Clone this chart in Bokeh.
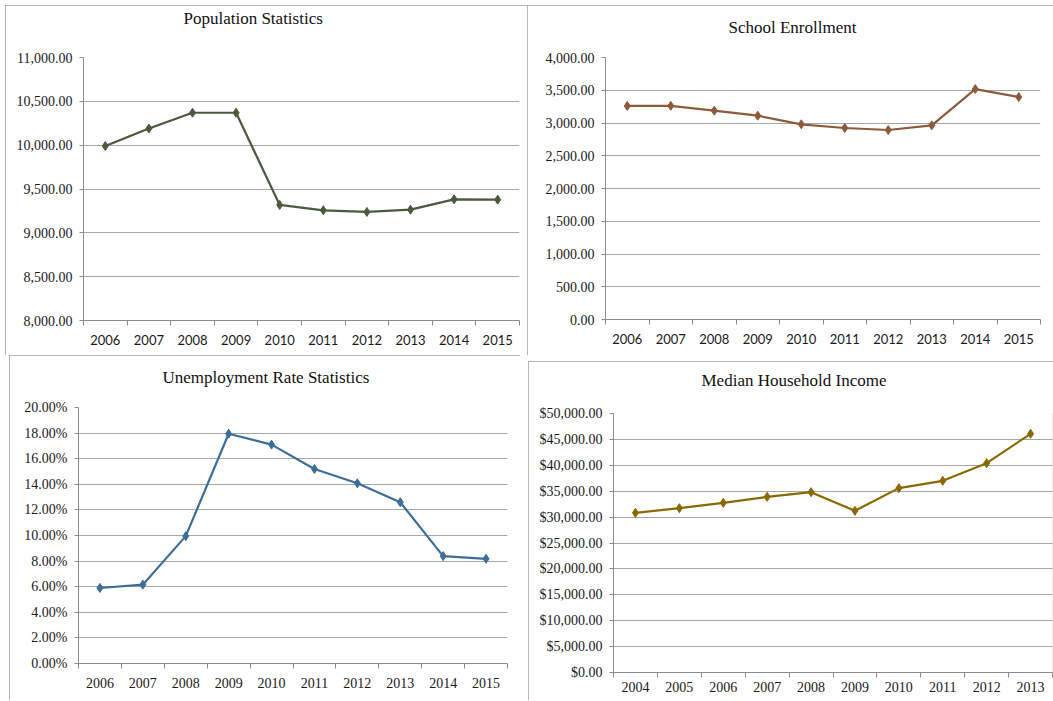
from bokeh.plotting import figure
from bokeh.models import FixedTicker, NumeralTickFormatter, Range1d, Title, Spacer
from bokeh.layouts import column, row
from bokeh.embed import file_html
from bokeh.resources import INLINE

# ---------------- data ----------------
pop_years = ["2006", "2007", "2008", "2009", "2010", "2011", "2012", "2013", "2014", "2015"]
pop_values = [9990, 10190, 10370, 10370, 9318, 9257, 9238, 9264, 9382, 9378]
pop_ticks = [8000, 8500, 9000, 9500, 10000, 10500, 11000]

school_years = ["2006", "2007", "2008", "2009", "2010", "2011", "2012", "2013", "2014", "2015"]
school_values = [3260, 3262, 3188, 3112, 2980, 2924, 2893, 2964, 3518, 3396]
school_ticks = [0, 500, 1000, 1500, 2000, 2500, 3000, 3500, 4000]

unemp_years = ["2006", "2007", "2008", "2009", "2010", "2011", "2012", "2013", "2014", "2015"]
unemp_rates = [0.059, 0.0616, 0.0995, 0.1795, 0.171, 0.152, 0.1408, 0.126, 0.0839, 0.0818]
unemp_ticks = [0, 0.02, 0.04, 0.06, 0.08, 0.10, 0.12, 0.14, 0.16, 0.18, 0.20]

income_years = ["2004", "2005", "2006", "2007", "2008", "2009", "2010", "2011", "2012", "2013"]
income_values = [30820, 31720, 32750, 33910, 34810, 31210, 35590, 37000, 40410, 46080]
income_ticks = [0, 5000, 10000, 15000, 20000, 25000, 30000, 35000, 40000, 45000, 50000]

SERIF = "Liberation Serif"
SANS = "Lato"
GRID = "#A6A6A6"
AXIS = "#8C8C8C"
TITLE_H = 20


def make_panel(title, years, values, ticks, fmt, color, x_font, x_font_size,
               left, frame_w, right, top, frame_h, bottom, title_dx, title_top, x_standoff):
    n = len(years)
    xs = [i + 0.5 for i in range(n)]
    p = figure(frame_width=frame_w, frame_height=frame_h, output_backend="svg",
               toolbar_location=None, align="start",
               x_range=Range1d(0, n), y_range=Range1d(ticks[0], ticks[-1]),
               min_border_left=left, min_border_right=right,
               min_border_top=top, min_border_bottom=bottom)
    p.styles = {"outline": "1px solid #A0A0A0", "outline-offset": "-1px"}
    p.outline_line_color = None
    p.background_fill_color = "white"
    p.border_fill_color = "white"

    # x axis: labels centred in categories, ticks at category boundaries
    xa = p.xaxis[0]
    xa.ticker = FixedTicker(ticks=xs, minor_ticks=list(range(n + 1)))
    xa.major_label_overrides = {x: y for x, y in zip(xs, years)}
    xa.major_tick_line_color = None
    xa.minor_tick_line_color = AXIS
    xa.minor_tick_out = 5
    xa.minor_tick_in = 0
    xa.axis_line_color = AXIS
    xa.major_label_text_font = x_font
    xa.major_label_text_font_size = x_font_size
    xa.major_label_text_color = "#1a1a1a"
    xa.major_label_standoff = x_standoff

    ya = p.yaxis[0]
    ya.ticker = FixedTicker(ticks=ticks)
    ya.formatter = NumeralTickFormatter(format=fmt)
    ya.major_tick_line_color = AXIS
    ya.major_tick_out = 4
    ya.major_tick_in = 0
    ya.minor_tick_line_color = None
    ya.axis_line_color = AXIS
    ya.major_label_text_font = SERIF
    ya.major_label_text_font_size = "14px"
    ya.major_label_text_color = "#1a1a1a"
    ya.major_label_standoff = 7

    p.xgrid.visible = False
    p.ygrid.grid_line_color = GRID
    p.ygrid.grid_line_width = 1

    p.line(xs, values, line_color=color, line_width=2.2)
    p.scatter(xs, values, marker="diamond", size=9, fill_color=color, line_color=color)

    # title: a spacer title next to the frame, then the real title on the outside
    s_t = 2 * title_top
    used = 2 + TITLE_H + s_t
    s_d = top - used - 3
    if s_d > 0:
        p.add_layout(Title(text=" ", text_font_size="1px", standoff=s_d), "above")
    p.title.text = title
    p.title.align = "left"
    p.title.offset = title_dx
    p.title.vertical_align = "top"
    p.title.standoff = s_t
    p.title.text_font = SERIF
    p.title.text_font_size = "17px"
    p.title.text_font_style = "normal"
    p.title.text_color = "#111111"
    return p


p1 = make_panel("Population Statistics", pop_years, pop_values, pop_ticks, "0,0.00",
                "#4B5A3F", SANS, "13px", 78, 436, 8, 52, 263, 35, 100, 2, 8)
p2 = make_panel("School Enrollment", school_years, school_values, school_ticks, "0,0.00",
                "#8E5A3C", SANS, "13px", 78, 435, 13, 52, 262, 36, 123, 11, 8)
p3 = make_panel("Unemployment Rate Statistics", unemp_years, unemp_rates, unemp_ticks, "0.00%",
                "#3D6E99", SERIF, "14px", 69, 429, 13, 52, 256, 37, 84, 11, 8)
p4 = make_panel("Median Household Income", income_years, income_values, income_ticks, "$0,0.00",
                "#8A6A00", SERIF, "14px", 85, 439, 1, 52, 259, 28, 88, 8, 3)

layout = column(
    Spacer(height=5, width=1053),
    row(Spacer(width=5, height=1, align="start"), p1, p2),
    row(Spacer(width=9, height=1, align="start"), p3, Spacer(width=8, height=1, align="start"),
        column(Spacer(width=1, height=6), p4, align="start")),
)

open("out.html", "w").write(file_html(layout, INLINE))
